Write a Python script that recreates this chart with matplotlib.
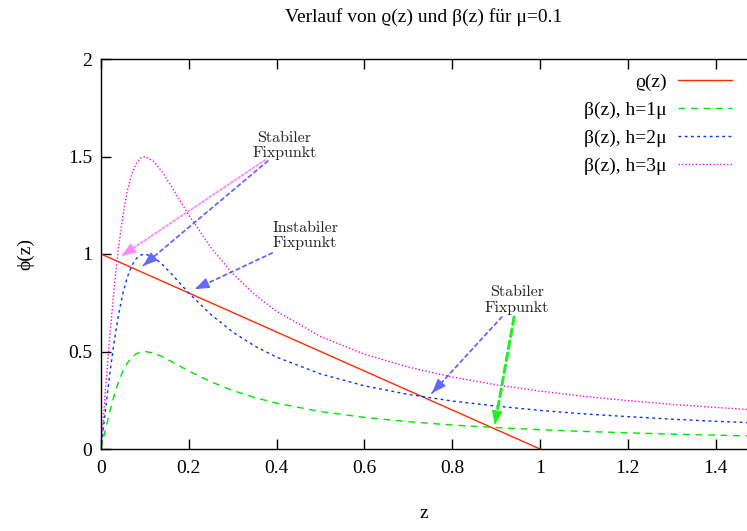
import matplotlib
matplotlib.use("Agg")
import matplotlib.pyplot as plt
import numpy as np

# values (mu = 0.1)
z = [0, 0.01, 0.02, 0.03, 0.04, 0.05, 0.06, 0.07, 0.08, 0.09, 0.10,
     0.12, 0.14, 0.16, 0.18, 0.20, 0.25, 0.30, 0.35, 0.40, 0.50,
     0.60, 0.70, 0.80, 0.90, 1.00, 1.10, 1.20, 1.30, 1.40, 1.50]
beta_h1 = [0, 0.099, 0.192, 0.275, 0.345, 0.400, 0.441, 0.470, 0.488, 0.497, 0.500,
           0.492, 0.473, 0.449, 0.425, 0.400, 0.345, 0.300, 0.264, 0.235, 0.192,
           0.162, 0.140, 0.123, 0.110, 0.099, 0.090, 0.083, 0.076, 0.071, 0.066]
beta_h2 = [0, 0.198, 0.385, 0.550, 0.690, 0.800, 0.882, 0.940, 0.976, 0.994, 1.000,
           0.984, 0.946, 0.899, 0.849, 0.800, 0.690, 0.600, 0.528, 0.471, 0.385,
           0.324, 0.280, 0.246, 0.220, 0.198, 0.180, 0.166, 0.153, 0.142, 0.133]
beta_h3 = [0, 0.297, 0.577, 0.826, 1.034, 1.200, 1.324, 1.409, 1.463, 1.492, 1.500,
           1.475, 1.419, 1.348, 1.274, 1.200, 1.034, 0.900, 0.792, 0.706, 0.577,
           0.486, 0.420, 0.369, 0.329, 0.297, 0.270, 0.248, 0.229, 0.213, 0.199]
rho_z = [0, 1]
rho = [1, 0]

labels = ["ϱ(z)", "β(z), h=1μ", "β(z), h=2μ", "β(z), h=3μ"]

# annotations: (text, text pos, [(arrow start, arrow tip, colour, dash, width)])
notes = [
    ("Stabiler\nFixpunkt", (0.418, 1.555),
     [((0.374, 1.482), (0.047, 0.99), "#ff88ff", (0, (1.2, 1.2)), 1.3),
      ((0.380, 1.477), (0.096, 0.94), "#6666ff", (0, (2, 2)), 1.3)]),
    ("Instabiler\nFixpunkt", (0.465, 1.095),
     [((0.390, 1.005), (0.214, 0.82), "#6666ff", (0, (2, 2)), 1.3)]),
    ("Stabiler\nFixpunkt", (0.948, 0.762),
     [((0.913, 0.677), (0.754, 0.287), "#6666ff", (0, (2, 2)), 1.3),
      ((0.941, 0.677), (0.897, 0.123), "#22ee22", (0, (2.5, 1.5)), 2.2)]),
]

serif = ["Liberation Serif", "DejaVu Serif"]
plt.rcParams["font.family"] = serif
plt.rcParams["font.size"] = 14

fig = plt.figure(figsize=(7.47, 5.31), dpi=100)
ax = fig.add_axes([101 / 747, 82 / 531, 646 / 747, 390 / 531])

ax.plot(rho_z, rho, color="#ff2a00", lw=1.0, label=labels[0])
ax.plot(z, beta_h1, color="#00e600", lw=1.0, ls=(0, (5, 4)), label=labels[1])
ax.plot(z, beta_h2, color="#0033ff", lw=1.0, ls=(0, (2, 2.5)), label=labels[2])
ax.plot(z, beta_h3, color="#ff00ff", lw=1.0, ls=(0, (1, 1.5)), label=labels[3])

ax.set_xlim(0, 1.4715)
ax.set_ylim(0, 2)

head_px = 12
for text, pos, arrows in notes:
    ax.text(pos[0], pos[1], text, family="cmr10", fontsize=11.5, ha="center",
            va="center", color="#222222", linespacing=1.15)
    for start, tip, col, dash, lw in arrows:
        # dashed shaft
        ax.annotate("", xy=tip, xytext=start,
                    arrowprops=dict(arrowstyle="-", color=col, lw=lw,
                                    linestyle=dash, shrinkA=0, shrinkB=0))
        # solid head at the tip
        p0 = ax.transData.transform(start)
        p1 = ax.transData.transform(tip)
        frac = head_px / np.hypot(*(p0 - p1))
        hs = (tip[0] + (start[0] - tip[0]) * frac, tip[1] + (start[1] - tip[1]) * frac)
        ax.annotate("", xy=tip, xytext=hs,
                    arrowprops=dict(arrowstyle="-|>,head_length=0.45,head_width=0.17",
                                    mutation_scale=20, color=col, lw=0.8,
                                    shrinkA=0, shrinkB=0))

ax.set_xticks([0, 0.2, 0.4, 0.6, 0.8, 1.0, 1.2, 1.4])
ax.set_xticklabels(["0", "0.2", "0.4", "0.6", "0.8", "1", "1.2", "1.4"])
ax.set_yticks([0, 0.5, 1.0, 1.5, 2.0])
ax.set_yticklabels(["0", "0.5", "1", "1.5", "2"])
ax.tick_params(direction="in", length=7, width=1, top=True, right=False)
ax.tick_params(axis="x", pad=8)
ax.tick_params(axis="y", pad=6.5)
ax.spines["right"].set_visible(False)
for s in ["left", "top", "bottom"]:
    ax.spines[s].set_linewidth(1.0)

ax.set_xlabel("z", labelpad=20)
ax.set_ylabel("ϕ(z)", labelpad=24)
ax.set_title("Verlauf von ϱ(z) und β(z) für μ=0.1", pad=27, fontsize=14)

ax.legend(loc="upper right", frameon=False, markerfirst=False,
          handlelength=2.8, handletextpad=0.6, labelspacing=0.53,
          borderaxespad=0.3, borderpad=0.45)

fig.savefig("out.png", dpi=100)
